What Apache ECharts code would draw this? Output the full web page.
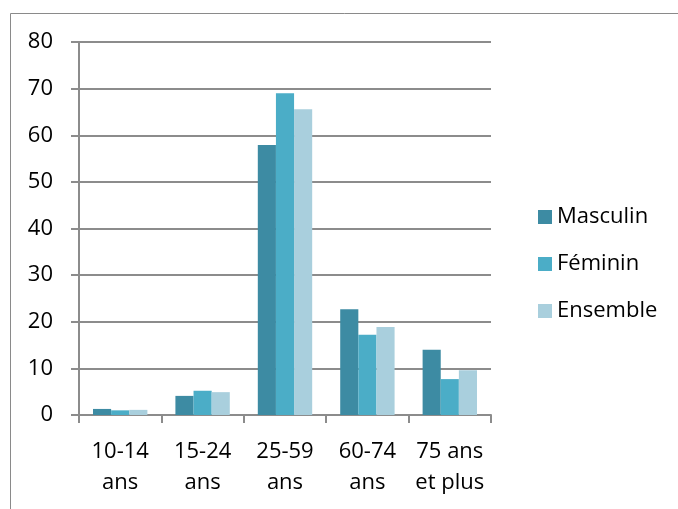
<!DOCTYPE html>
<html>
<head>
<meta charset="utf-8">
<script src="https://cdn.jsdelivr.net/npm/echarts@6/dist/echarts.min.js"></script>
<style>html,body{margin:0;padding:0;background:#fff}#c{width:678px;height:509px}</style>
</head>
<body>
<div id="c"></div>
<script>
const categories = ['10-14\nans', '15-24\nans', '25-59\nans', '60-74\nans', '75 ans\net plus'];
const masculin = [1.3, 4.1, 57.9, 22.7, 14.0];
const feminin = [1.0, 5.2, 69.0, 17.2, 7.7];
const ensemble = [1.1, 4.9, 65.6, 18.9, 9.6];
const seriesNames = ['Masculin', 'Féminin', 'Ensemble'];
const colors = ['#3D8BA3', '#4BADC7', '#A9CFDD'];

const chart = echarts.init(document.getElementById('c'), null, {renderer: 'canvas'});
const font = '"Open Sans", "Noto Sans", sans-serif';
const mk = (name, data, color) => ({
  name, type: 'bar', data, barGap: '0%', barCategoryGap: '34%',
  itemStyle: {color}
});
chart.setOption({
  animation: false,
  color: colors,
  textStyle: {fontFamily: font},
  grid: {left: 79, right: 187, top: 42, bottom: 94, containLabel: false},
  graphic: [{
    type: 'rect', shape: {x: 10.5, y: 13.5, width: 700, height: 520},
    style: {fill: 'none', stroke: '#8a8a8a', lineWidth: 1}, z: -1
  }],
  legend: {
    orient: 'vertical', left: 533, top: 201, itemWidth: 14, itemHeight: 14,
    itemGap: 25, icon: 'rect',
    textStyle: {fontSize: 22, color: '#000', fontFamily: font, padding: [0, 0, 0, 0]},
    data: seriesNames
  },
  xAxis: {
    type: 'category', data: categories,
    axisLine: {lineStyle: {color: '#8c8c8c', width: 2}},
    axisTick: {show: true, length: 8, lineStyle: {color: '#8c8c8c', width: 2}},
    axisLabel: {fontSize: 22, color: '#000', lineHeight: 31, margin: 21, interval: 0, fontFamily: font}
  },
  yAxis: {
    type: 'value', min: 0, max: 80, interval: 10,
    axisLine: {show: true, lineStyle: {color: '#8c8c8c', width: 2}},
    axisTick: {show: true, length: 8, lineStyle: {color: '#8c8c8c', width: 2}},
    splitLine: {lineStyle: {color: '#8c8c8c', width: 2}},
    axisLabel: {fontSize: 22, color: '#000', margin: 26, fontFamily: font}
  },
  series: [
    mk(seriesNames[0], masculin, colors[0]),
    mk(seriesNames[1], feminin, colors[1]),
    mk(seriesNames[2], ensemble, colors[2])
  ]
});
</script>
</body>
</html>
